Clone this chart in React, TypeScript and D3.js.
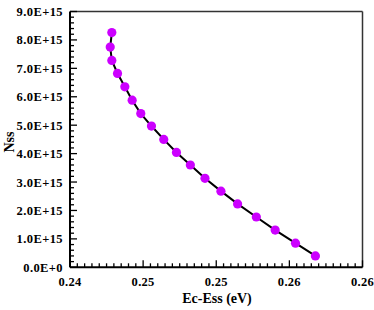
import React from "react";
import * as d3 from "d3";

const energy = [0.24286, 0.24275, 0.24286, 0.24325, 0.24375, 0.24425, 0.24484, 0.24557, 0.24641, 0.24728, 0.24823, 0.24923, 0.25032, 0.25146, 0.25274, 0.25403, 0.25542, 0.25678];
const nss = [8.26e15, 7.75e15, 7.28e15, 6.82e15, 6.35e15, 5.88e15, 5.41e15, 4.97e15, 4.5e15, 4.04e15, 3.6e15, 3.13e15, 2.68e15, 2.23e15, 1.77e15, 1.31e15, 0.85e15, 0.4e15];
const xTicks = [0.24, 0.245, 0.25, 0.255, 0.26];
const xTickLabels = ["0.24", "0.25", "0.25", "0.26", "0.26"];
const yTicks = [0, 1e15, 2e15, 3e15, 4e15, 5e15, 6e15, 7e15, 8e15, 9e15];
const yTickLabels = ["0.0E+0", "1.0E+15", "2.0E+15", "3.0E+15", "4.0E+15", "5.0E+15", "6.0E+15", "7.0E+15", "8.0E+15", "9.0E+15"];

export default function App() {
  const W = 374, H = 310;
  const L = 70, R = 362.5, T = 11.5, B = 267.3;
  const x = d3.scaleLinear().domain([0.24, 0.26]).range([L, R]);
  const y = d3.scaleLinear().domain([0, 9e15]).range([B, T]);
  const xMinor = d3.range(0, 41).map((i) => 0.24 + i * 0.0005);
  const yMinor = d3.range(0, 46).map((i) => i * 0.2e15);
  const pts = energy.map((e, i) => [x(e), y(nss[i])] as [number, number]);
  const line = d3.line()(pts) || "";
  const font = "'Liberation Serif', 'Times New Roman', serif";
  return (
    <svg width={W} height={H} style={{ position: "absolute", left: 0, top: 0, background: "#fff" }}>
      <rect x={0} y={0} width={W} height={H} fill="#fff" />
      <line x1={L} y1={T} x2={R} y2={T} stroke="#333" strokeWidth={1.5} />
      <line x1={R} y1={T} x2={R} y2={B} stroke="#333" strokeWidth={1.5} />
      {xMinor.map((v, i) => (
        <line key={"xm" + i} x1={x(v)} x2={x(v)} y1={B} y2={B - (i % 10 === 0 ? 7 : 4)} stroke="#000" strokeWidth={1.3} />
      ))}
      {yMinor.map((v, i) => (
        <line key={"ym" + i} x1={L} x2={L + (i % 5 === 0 ? 7 : 4)} y1={y(v)} y2={y(v)} stroke="#000" strokeWidth={1.3} />
      ))}
      <line x1={L} y1={T} x2={L} y2={B} stroke="#000" strokeWidth={2} />
      <line x1={L} y1={B} x2={R} y2={B} stroke="#000" strokeWidth={2} />
      {xTicks.map((v, i) => (
        <text key={"xl" + i} x={x(v)} y={285.5} textAnchor="middle" fontFamily={font} fontWeight="bold" fontSize={12.5} letterSpacing={0.3} fill="#000">
          {xTickLabels[i]}
        </text>
      ))}
      {yTicks.map((v, i) => (
        <text key={"yl" + i} x={63} y={y(v) + 4.5} textAnchor="end" fontFamily={font} fontWeight="bold" fontSize={12.5} letterSpacing={0.4} fill="#000">
          {yTickLabels[i]}
        </text>
      ))}
      <text x={217} y={303} textAnchor="middle" fontFamily={font} fontWeight="bold" fontSize={14} fill="#000">
        Ec-Ess (eV)
      </text>
      <text transform="translate(14,142) rotate(-90)" textAnchor="middle" fontFamily={font} fontWeight="bold" fontSize={14} fill="#000">
        Nss
      </text>
      <path d={line} fill="none" stroke="#000" strokeWidth={2} />
      {pts.map((p, i) => (
        <circle key={"p" + i} cx={p[0]} cy={p[1]} r={4.6} fill="#cc00ff" />
      ))}
    </svg>
  );
}
